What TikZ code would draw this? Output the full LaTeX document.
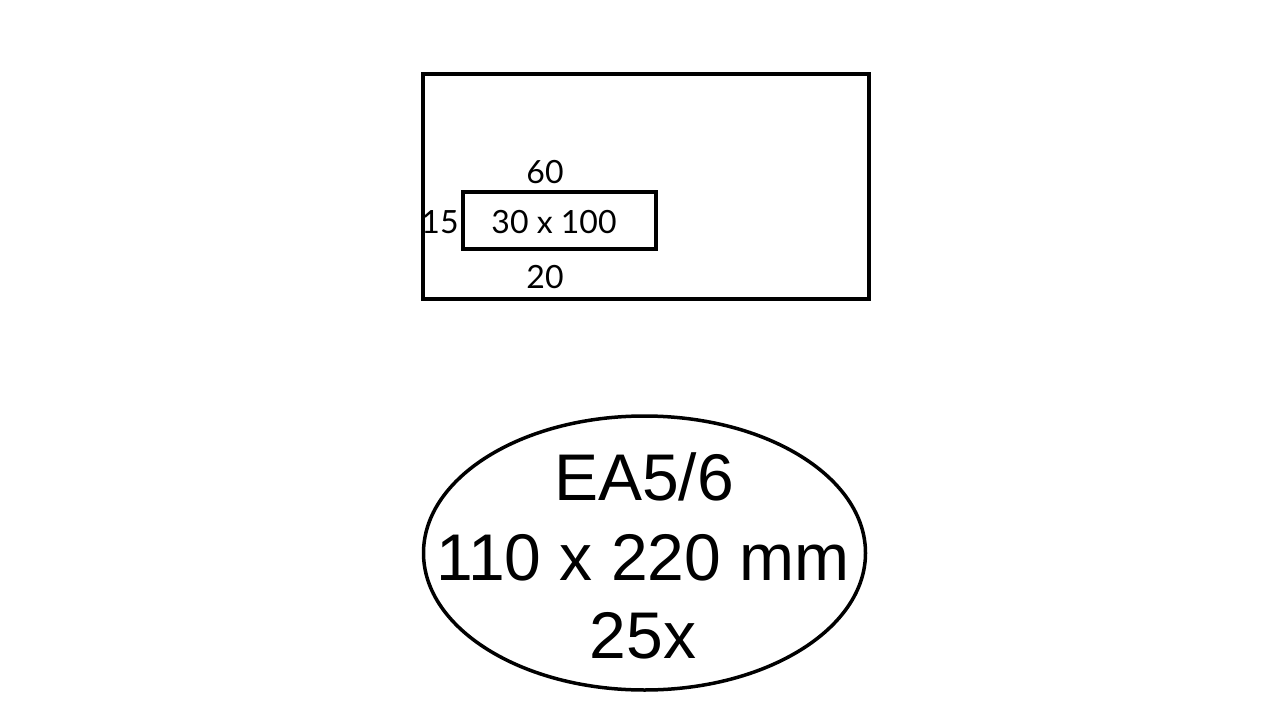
\documentclass[tikz,border=0pt]{standalone}
\usepackage{fontspec}
\setmainfont{Liberation Sans}
\newfontfamily\smallfont{Lato}
\usetikzlibrary{shapes.geometric}
\begin{document}
\begin{tikzpicture}[x=1pt,y=-1pt,
  thickline/.style={draw=black,line width=4pt},
  dimlabel/.style={font=\smallfont\fontsize{32}{36}\selectfont,inner sep=0pt},
  biglabel/.style={font=\fontsize{66}{72}\selectfont,inner sep=0pt,anchor=base}]
\useasboundingbox (0,0) rectangle (1280,720);
\fill[white] (0,0) rectangle (1280,720);
\node[thickline,minimum width=446pt,minimum height=225pt,inner sep=0pt] (env) at (645.5,186.5) {};
\node[draw=black,line width=3.5pt,minimum width=193pt,minimum height=57pt,inner sep=0pt] (win) at (559.5,220.5) {};
\node[dimlabel] (size) at (554,222) {30 x 100};
\node[dimlabel] (top) at (545,172) {60};
\node[dimlabel] (left) at (440,222) {15};
\node[dimlabel] (bottom) at (545,277) {20};
\node[ellipse,draw=black,line width=3.5pt,minimum width=442pt,minimum height=274pt,inner sep=0pt] (oval) at (644.5,553) {};
\node[biglabel] (l1) at (644,500) {EA5/6};
\node[biglabel] (l2) at (643,580) {110 x 220 mm};
\node[biglabel] (l3) at (643,658) {25x};
\end{tikzpicture}
\end{document}
